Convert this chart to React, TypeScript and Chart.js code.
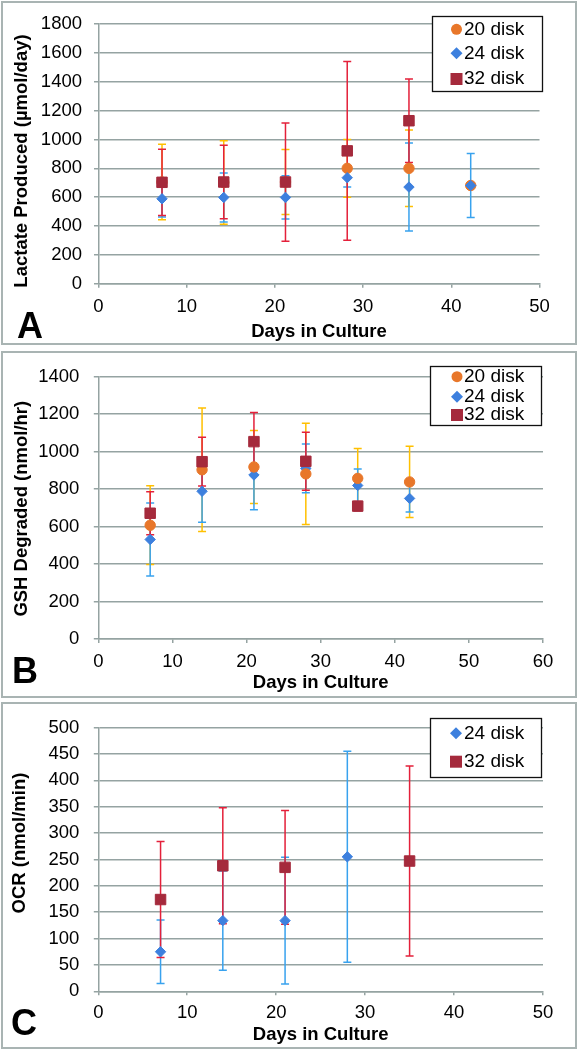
import React, { useEffect, useRef } from "react";
import { Chart, registerables } from "chart.js";

Chart.register(...registerables);

// ---------------- DATA ----------------
const X_TITLE = "Days in Culture";
const SERIES_LABELS = ["20 disk", "24 disk", "32 disk"];

// Panel A — Lactate Produced (µmol/day)
const A_DAYS = [7.2, 14.2, 21.2, 28.2, 35.2, 42.2];
const A_DAYS_32 = [7.2, 14.2, 21.2, 28.2, 35.2];
const A_20_MEAN = [705, 702, 705, 800, 800, 681];
const A_20_ERR = [262, 290, 225, 200, 265, 0];
const A_24_MEAN = [589, 598, 598, 735, 670, 681];
const A_24_ERR = [126, 170, 150, 65, 305, 222];
const A_32_MEAN = [703, 705, 705, 921, 1130];
const A_32_ERR = [230, 255, 410, 620, 290];

// Panel B — GSH Degraded (nmol/hr)
const B_DAYS = [7, 14, 21, 28, 35, 42];
const B_DAYS_32 = [7, 14, 21, 28, 35];
const B_20_MEAN = [607, 903, 918, 881, 857, 838];
const B_20_ERR = [210, 330, 195, 270, 160, 190];
const B_24_MEAN = [531, 788, 875, 910, 819, 750];
const B_24_ERR = [195, 165, 185, 130, 88, 72];
const B_32_MEAN = [671, 946, 1053, 948, 709];
const B_32_ERR = [115, 130, 155, 155, 25];

// Panel C — OCR (nmol/min)
const C_DAYS_24 = [7, 14, 21, 28];
const C_DAYS_32 = [7, 14, 21, 35];
const C_24_MEAN = [75, 134, 134, 255];
const C_24_ERR = [60, 94, 120, 200];
const C_32_MEAN = [174, 238, 235, 247];
const C_32_ERR = [110, 110, 108, 180];

// ---------------- STYLE ----------------
const FONT = "'Liberation Sans', Arial, Helvetica, sans-serif";
const GRID = "#95A3A2";
const FRAME = "#A9B4B3";
const ORANGE = "#E8772A";
const ORANGE_ERR = "#FFC000";
const BLUE = "#3D80DE";
const BLUE_ERR = "#38A2EE";
const RED = "#A52A3C";
const RED_ERR = "#E4203A";

const S20 = { style: "circle", radius: 5.2, color: ORANGE, errColor: ORANGE_ERR };
const S24 = { style: "rectRot", radius: 5.2, color: BLUE, errColor: BLUE_ERR };
const S32 = { style: "rect", radius: 7.4, color: RED, errColor: RED_ERR };

const PANELS: any[] = [
  {
    key: "A",
    top: 1,
    height: 344,
    xMax: 50,
    yMax: 1800,
    yStep: 200,
    area: { left: 98.5, right: 539.5, top: 15.7, bottom: 282.7 },
    yTickPad: 12,
    xTickPad: 8,
    xTitlePad: 2.2,
    yTitle: "Lactate Produced (\u00b5mol/day)",
    yTitlePos: [21.5, 160],
    letter: "A",
    letterPos: [17, 337],
    legend: { box: [432, 15, 542, 90], rows: [28.3, 52.3, 78], markerX: 456.5, textX: 464 },
    series: [
      { label: SERIES_LABELS[0], xs: A_DAYS, ys: A_20_MEAN, errs: A_20_ERR, order: 2, ...S20 },
      { label: SERIES_LABELS[1], xs: A_DAYS, ys: A_24_MEAN, errs: A_24_ERR, order: 1, ...S24 },
      { label: SERIES_LABELS[2], xs: A_DAYS_32, ys: A_32_MEAN, errs: A_32_ERR, order: 0, ...S32 },
    ],
  },
  {
    key: "B",
    top: 351,
    height: 347,
    xMax: 60,
    yMax: 1400,
    yStep: 200,
    area: { left: 98.3, right: 543, top: 16.7, bottom: 288 },
    yTickPad: 14.5,
    xTickPad: 8,
    xTitlePad: 3.9,
    yTitle: "GSH Degraded (nmol/hr)",
    yTitlePos: [21.5, 157.7],
    letter: "B",
    letterPos: [12, 332],
    legend: { box: [430, 15, 541, 74], rows: [25.7, 45.7, 64], markerX: 457, textX: 464 },
    series: [
      { label: SERIES_LABELS[0], xs: B_DAYS, ys: B_20_MEAN, errs: B_20_ERR, order: 1, ...S20 },
      { label: SERIES_LABELS[1], xs: B_DAYS, ys: B_24_MEAN, errs: B_24_ERR, order: 2, ...S24 },
      { label: SERIES_LABELS[2], xs: B_DAYS_32, ys: B_32_MEAN, errs: B_32_ERR, order: 0, ...S32 },
    ],
  },
  {
    key: "C",
    top: 702,
    height: 347,
    xMax: 50,
    yMax: 500,
    yStep: 50,
    area: { left: 98.3, right: 543, top: 17.3, bottom: 289.3 },
    yTickPad: 14.5,
    xTickPad: 7,
    xTitlePad: 2.9,
    yTitle: "OCR (nmol/min)",
    yTitlePos: [19.8, 141],
    letter: "C",
    letterPos: [11, 333],
    legend: { box: [430, 16, 541, 75], rows: [31.3, 59.7], markerX: 456, textX: 464 },
    series: [
      { label: SERIES_LABELS[1], xs: C_DAYS_24, ys: C_24_MEAN, errs: C_24_ERR, order: 1, ...S24 },
      { label: SERIES_LABELS[2], xs: C_DAYS_32, ys: C_32_MEAN, errs: C_32_ERR, order: 0, ...S32 },
    ],
  },
];

// ---------------- PLUGINS ----------------
const errorBarPlugin = {
  id: "errorBars",
  beforeDatasetsDraw(chart: any) {
    const { ctx } = chart;
    const xs = chart.scales.x;
    const ys = chart.scales.y;
    ctx.save();
    ctx.lineWidth = 1.5;
    chart.data.datasets.forEach((ds: any) => {
      ctx.strokeStyle = ds.errorColor;
      ds.data.forEach((p: any, i: number) => {
        const e = ds.errors[i];
        if (!e) return;
        const px = xs.getPixelForValue(p.x);
        const t = ys.getPixelForValue(p.y + e);
        const b = ys.getPixelForValue(p.y - e);
        ctx.beginPath();
        ctx.moveTo(px, t);
        ctx.lineTo(px, b);
        ctx.moveTo(px - 4, t);
        ctx.lineTo(px + 4, t);
        ctx.moveTo(px - 4, b);
        ctx.lineTo(px + 4, b);
        ctx.stroke();
      });
    });
    ctx.restore();
  },
};

function drawMarker(ctx: CanvasRenderingContext2D, style: string, x: number, y: number, color: string) {
  ctx.fillStyle = color;
  ctx.beginPath();
  if (style === "circle") {
    ctx.arc(x, y, 5.5, 0, Math.PI * 2);
  } else if (style === "rectRot") {
    ctx.moveTo(x, y - 6);
    ctx.lineTo(x + 6, y);
    ctx.lineTo(x, y + 6);
    ctx.lineTo(x - 6, y);
    ctx.closePath();
  } else {
    ctx.rect(x - 6, y - 6, 12, 12);
  }
  ctx.fill();
}

function makeDecorPlugin(p: any) {
  return {
    id: "decor" + p.key,
    afterDraw(chart: any) {
      const ctx: CanvasRenderingContext2D = chart.ctx;
      ctx.save();
      // y-axis title
      ctx.save();
      ctx.translate(p.yTitlePos[0], p.yTitlePos[1]);
      ctx.rotate(-Math.PI / 2);
      ctx.font = `bold 18.5px ${FONT}`;
      ctx.fillStyle = "#000";
      ctx.textAlign = "center";
      ctx.textBaseline = "middle";
      ctx.fillText(p.yTitle, 0, 0);
      ctx.restore();
      // panel letter
      ctx.font = `bold 36px ${FONT}`;
      ctx.fillStyle = "#000";
      ctx.textAlign = "left";
      ctx.textBaseline = "alphabetic";
      ctx.fillText(p.letter, p.letterPos[0], p.letterPos[1]);
      // legend box
      const lg = p.legend;
      const [x1, y1, x2, y2] = lg.box;
      ctx.fillStyle = "#fff";
      ctx.fillRect(x1, y1, x2 - x1, y2 - y1);
      ctx.strokeStyle = "#111";
      ctx.lineWidth = 1.3;
      ctx.strokeRect(x1 + 0.5, y1 + 0.5, x2 - x1, y2 - y1);
      chart.data.datasets.forEach((ds: any, i: number) => {
        const cy = lg.rows[i];
        drawMarker(ctx, ds.pointStyle, lg.markerX, cy, ds.backgroundColor);
        ctx.fillStyle = "#000";
        ctx.font = `19px ${FONT}`;
        ctx.textAlign = "left";
        ctx.textBaseline = "middle";
        ctx.fillText(ds.label, lg.textX, cy);
      });
      ctx.restore();
    },
  };
}

function buildConfig(p: any): any {
  const datasets = p.series.map((s: any) => ({
    label: s.label,
    data: s.xs.map((x: number, i: number) => ({ x, y: s.ys[i] })),
    errors: s.errs,
    errorColor: s.errColor,
    pointStyle: s.style,
    pointRadius: s.radius,
    pointHoverRadius: s.radius,
    backgroundColor: s.color,
    borderColor: s.color,
    borderWidth: 1,
    showLine: false,
    order: s.order,
  }));
  const tickFont = { family: FONT, size: 18.5 };
  const plain = (v: any) => String(v);
  return {
    type: "scatter",
    data: { datasets },
    options: {
      animation: false,
      responsive: false,
      events: [],
      layout: { padding: { left: 0, right: 578 - p.area.right, top: p.area.top, bottom: 0 } },
      plugins: { legend: { display: false }, tooltip: { enabled: false } },
      scales: {
        x: {
          type: "linear",
          position: "bottom",
          min: 0,
          max: p.xMax,
          ticks: {
            stepSize: 10,
            color: "#000",
            font: tickFont,
            padding: p.xTickPad,
            maxRotation: 0,
            autoSkip: false,
            callback: plain,
          },
          grid: { drawOnChartArea: false, drawTicks: true, tickLength: 4, color: GRID, lineWidth: 1.5 },
          border: { display: true, color: GRID, width: 1.5 },
          title: {
            display: true,
            text: X_TITLE,
            color: "#000",
            font: { family: FONT, size: 18.5, weight: "bold" },
            padding: { top: 0, bottom: p.xTitlePad },
          },
          afterFit: (s: any) => {
            s.height = p.height - p.area.bottom;
          },
        },
        y: {
          type: "linear",
          position: "left",
          min: 0,
          max: p.yMax,
          ticks: { stepSize: p.yStep, color: "#000", font: tickFont, padding: p.yTickPad, callback: plain },
          grid: { color: GRID, lineWidth: 1.5, drawTicks: true, tickLength: 4.5 },
          border: { display: true, color: GRID, width: 1.5 },
          afterFit: (s: any) => {
            s.width = p.area.left;
          },
        },
      },
    },
    plugins: [errorBarPlugin, makeDecorPlugin(p)],
  };
}

function PanelChart({ panel }: { panel: any }) {
  const ref = useRef<HTMLCanvasElement>(null);
  useEffect(() => {
    if (!ref.current) return;
    const chart = new Chart(ref.current, buildConfig(panel));
    return () => chart.destroy();
  }, [panel]);
  return (
    <>
      <div
        style={{
          position: "absolute",
          left: 1,
          top: panel.top,
          width: 576,
          height: panel.height,
          border: `2px solid ${FRAME}`,
          boxSizing: "border-box",
          background: "#fff",
        }}
      />
      <canvas
        ref={ref}
        width={578}
        height={panel.height}
        style={{ position: "absolute", left: 0, top: panel.top, width: 578, height: panel.height }}
      />
    </>
  );
}

export default function App() {
  return (
    <div style={{ position: "absolute", left: 0, top: 0, width: 578, height: 1050, background: "#fff" }}>
      {PANELS.map((p) => (
        <PanelChart key={p.key} panel={p} />
      ))}
    </div>
  );
}
